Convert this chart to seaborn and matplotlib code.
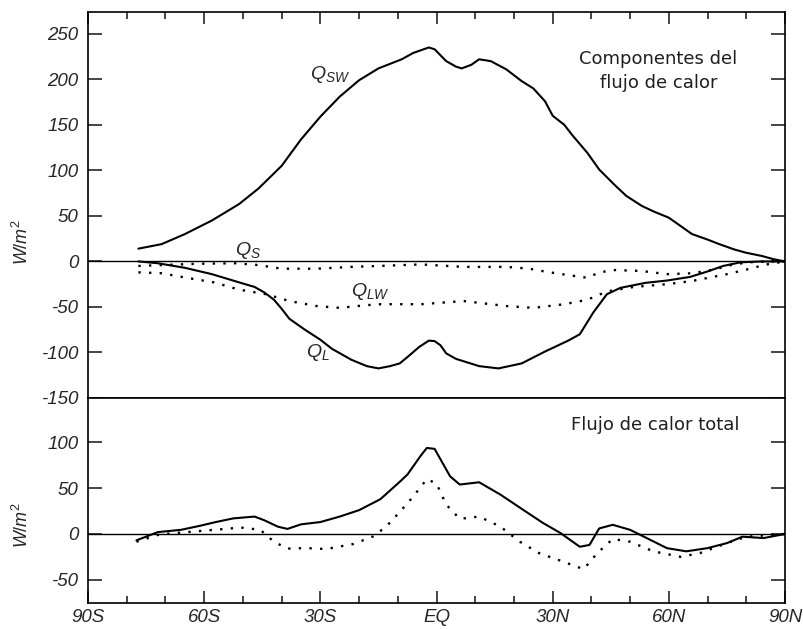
import numpy as np
import pandas as pd
import matplotlib
matplotlib.use("Agg")
import matplotlib.pyplot as plt
import seaborn as sns

# Heat flux components (W/m2), by latitude (deg, S negative)
lat_sw = [-77, -71, -65, -58, -51, -46, -40, -35, -30, -25, -20, -15, -9, -6, -2, -0.5,
          2.5, 5, 6.5, 9, 11, 14, 18, 22, 25, 28, 30, 33, 35, 39, 42, 46, 49, 53, 56, 60,
          63, 66, 70, 73, 77, 80, 84, 87, 90]
q_sw = [14, 19, 30, 45, 63, 80, 105, 134, 159, 181, 199, 212, 222, 229, 235, 233,
        220, 214, 212, 216, 222, 220, 211, 198, 190, 176, 160, 150, 139, 119, 101, 84, 72, 61, 55, 48,
        39, 30, 24, 19, 13, 9.5, 6, 2.5, 0]

lat_l = [-77, -72, -65, -58, -51, -47, -44.5, -42, -40, -38, -34, -30, -27, -22, -18, -15, -12,
         -9.5, -7.5, -4.5, -2, -0.5, 1, 2.5, 5, 8, 11, 16, 22, 28, 34, 37, 40.5, 44, 47.5, 54,
         59.5, 65.5, 70, 74, 78.5, 84, 90]
q_l = [0, -2, -7, -14, -23, -28, -34, -42, -52, -63, -75, -86, -96, -108, -115, -117.5, -115,
       -112, -105, -94, -87, -87.5, -92, -101, -107, -111, -115, -117.5, -112, -99, -87, -80, -56, -36, -29, -23.5,
       -21, -17, -11, -5, -1, 0, 0]

lat_s = [-77, -71, -61, -52, -46, -40, -31, -22, -15, -4, 7, 18, 24, 28.5, 34, 39, 42, 46,
         53, 59.5, 66, 71.5, 77, 82, 90]
q_s = [-5, -4, -2.5, -2, -4, -8, -8, -6, -5, -3.3, -6, -6, -8, -11.5, -15, -18, -12, -9.5,
       -10.5, -14, -13, -9, -3, -0.5, 0]

lat_lw = [-77, -71, -64.5, -57.5, -51, -44, -38, -31, -25, -18, -14.5, -4, 7, 18, 25, 33, 39,
          44, 51, 59.5, 66, 75, 80, 85, 90]
q_lw = [-12, -13, -18, -23, -31, -36, -43.5, -49, -51, -48, -47, -47, -43.5, -49, -51, -47, -42,
        -33, -28, -25, -21.5, -14, -9, -3.5, 0]

# Total heat flux, two estimates
lat_tot = [-77.5, -72, -66, -61, -57, -52.5, -47, -44.5, -41, -38.5, -35, -30, -25, -20, -14.5,
           -9.5, -7.5, -6, -4, -2.5, -0.5, 1.5, 3.5, 6, 11, 16.5, 22.5, 27.5, 32, 37, 39.5, 42,
           45.5, 50, 54.5, 59.5, 64.5, 70, 75, 79, 84.5, 90]
q_tot = [-7, 2, 4.5, 9, 13, 17, 19, 15, 8, 5.5, 10.5, 13, 19, 26, 38,
         57, 65, 74, 86, 94, 93, 78, 63, 54, 56.5, 43, 26, 12, 1, -14, -12, 6,
         10, 4.5, -5, -15.5, -19, -15.5, -10, -3, -4.5, 0]

lat_tot2 = [-77.5, -71.5, -64.5, -57.5, -50.5, -45.5, -42, -38.5, -33.5, -28.5, -21.5, -16.5,
            -13, -9.5, -6, -2.5, 0, 2.5, 6, 11, 16.5, 21.5, 26.5, 32.5, 38, 41.5, 45.5, 50, 56,
            63, 68, 75, 80, 90]
q_tot2 = [-8.5, -0.5, 2, 4.5, 7, 4.5, -8.5, -16, -15.5, -16.5, -11, -3,
          8, 24, 41, 60, 55, 32, 16.5, 19, 8, -8.5, -21, -30, -38.5, -21, -5.5, -8.5, -19,
          -25, -21, -10, -3, 0]

xticks = [-90, -60, -30, 0, 30, 60, 90]
xticklabels = ["90S", "60S", "30S", "EQ", "30N", "60N", "90N"]
yticks_top = [-150, -100, -50, 0, 50, 100, 150, 200, 250]
yticks_bot = [-50, 0, 50, 100]

sns.set_style("ticks")
plt.rcParams["font.family"] = ["Liberation Sans", "DejaVu Sans"]
plt.rcParams["axes.unicode_minus"] = False
plt.rcParams["mathtext.fontset"] = "custom"
plt.rcParams["mathtext.rm"] = "Liberation Sans"
plt.rcParams["mathtext.it"] = "Liberation Sans:italic"

fig, (ax1, ax2) = plt.subplots(2, 1, figsize=(8.04, 6.29), dpi=100, sharex=True,
                               gridspec_kw={"height_ratios": [386, 205], "hspace": 0})
fig.subplots_adjust(left=0.1095, right=0.9764, top=0.981, bottom=0.0413)

dots = (0, (1, 3.5))
solid_kw = dict(color="black", linewidth=1.5)
dot_kw = dict(color="black", linewidth=1.7, linestyle=dots)

sns.lineplot(x=lat_sw, y=q_sw, ax=ax1, **solid_kw)
sns.lineplot(x=lat_l, y=q_l, ax=ax1, **solid_kw)
sns.lineplot(x=lat_s, y=q_s, ax=ax1, **dot_kw)
sns.lineplot(x=lat_lw, y=q_lw, ax=ax1, **dot_kw)

sns.lineplot(x=lat_tot, y=q_tot, ax=ax2, **solid_kw)
sns.lineplot(x=lat_tot2, y=q_tot2, ax=ax2, **dot_kw)

for ax in (ax1, ax2):
    ax.axhline(0, color="black", linewidth=1.0, zorder=1)
    for sp in ax.spines.values():
        sp.set_linewidth(1.2)
        sp.set_color("black")

ax1.set_xlim(-90, 90)
ax1.set_ylim(-150, 274)
ax2.set_ylim(-75.5, 148.6)

ax1.set_yticks(yticks_top)
ax2.set_yticks(yticks_bot)
ax2.set_xticks(xticks)
ax2.set_xticklabels(xticklabels)
ax2.set_xticks(np.arange(-80, 90, 10), minor=True)

ax1.tick_params(axis="x", which="both", direction="in", top=True, bottom=False,
                labeltop=False, labelbottom=False)
ax2.tick_params(axis="x", which="both", direction="in", top=False, bottom=True,
                labelbottom=True)
for ax in (ax1, ax2):
    ax.tick_params(axis="x", which="major", length=8.5, width=1.2, pad=4, labelsize=13.5)
    ax.tick_params(axis="x", which="minor", length=5, width=1.2)
    ax.tick_params(axis="y", direction="in", left=True, right=True, length=10, width=1.2,
                   pad=7, labelsize=13.5)
    for lab in ax.get_xticklabels() + ax.get_yticklabels():
        lab.set_fontstyle("italic")

ax1.set_ylabel(r"$W/m^2$", fontsize=13)
ax1.yaxis.set_label_coords(-0.080, 0.404)
ax2.set_ylabel(r"$W/m^2$", fontsize=13)
ax2.yaxis.set_label_coords(-0.080, 0.38)
ax2.set_xlabel("")

lab_kw = dict(fontsize=14, ha="left", va="baseline")
ax1.text(-32.7, 200, r"$Q_{SW}$", **lab_kw)
ax1.text(-52, 7.5, r"$Q_{S}$", **lab_kw)
ax1.text(-22, -38, r"$Q_{LW}$", **lab_kw)
ax1.text(-33.7, -105.5, r"$Q_{L}$", **lab_kw)

note_kw = dict(fontsize=13, ha="center", va="baseline", color="#1e1e1e", family="DejaVu Sans")
ax1.text(57.3, 217, "Componentes del", **note_kw)
ax1.text(57.3, 190, "flujo de calor", **note_kw)
ax2.text(56.4, 113.5, "Flujo de calor total", **note_kw)

fig.savefig("out.png", dpi=100)
